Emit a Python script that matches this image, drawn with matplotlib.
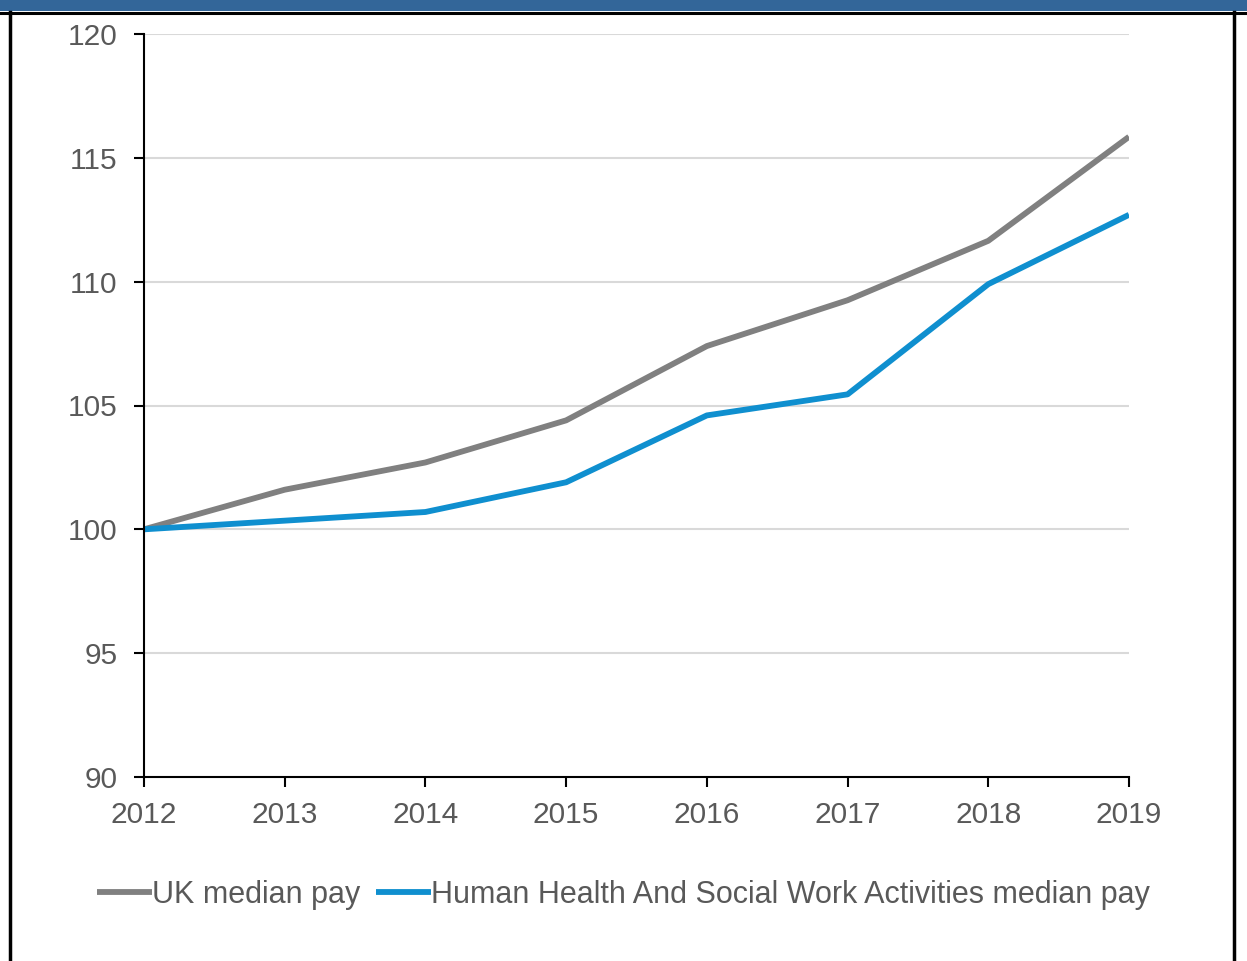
import matplotlib.pyplot as plt
from matplotlib.patches import Rectangle
from matplotlib.lines import Line2D

plt.rcParams['font.family'] = ['Liberation Sans', 'DejaVu Sans']

years = [2012, 2013, 2014, 2015, 2016, 2017, 2018, 2019]
uk_pay = [100, 101.6, 102.7, 104.4, 107.4, 109.25, 111.65, 115.85]
health_pay = [100, 100.35, 100.7, 101.9, 104.6, 105.45, 109.9, 112.7]
yticks = [90, 95, 100, 105, 110, 115, 120]

W, H = 1247, 961
fig = plt.figure(figsize=(W / 100, H / 100), dpi=100)

# frame: blue band on top, black border lines
fig.patches.append(Rectangle((0, 1 - 11 / H), 1, 11 / H, transform=fig.transFigure,
                             facecolor='#336699', edgecolor='none', zorder=0))
fig.add_artist(Line2D([0, 1], [1 - 12.5 / H] * 2, transform=fig.transFigure, color='black', lw=2.2))
fig.add_artist(Line2D([10 / W] * 2, [0, 1 - 12 / H], transform=fig.transFigure, color='black', lw=2.5))
fig.add_artist(Line2D([1233.5 / W] * 2, [0, 1 - 12 / H], transform=fig.transFigure, color='black', lw=2.5))

ax = fig.add_axes([144 / W, 1 - 777 / H, (1129 - 144) / W, (777 - 34) / H])

ax.plot(years, uk_pay, color='#808080', lw=4.2, label='UK median pay', solid_capstyle='butt')
ax.plot(years, health_pay, color='#0F8FCF', lw=4.2,
        label='Human Health And Social Work Activities median pay', solid_capstyle='butt')

ax.set_xlim(2012, 2019)
ax.set_ylim(90, 120)
ax.set_xticks(years)
ax.set_yticks(yticks)
for y in yticks[1:]:
    ax.axhline(y, color='#d9d9d9', lw=1.5, zorder=0)

for s in ['top', 'right']:
    ax.spines[s].set_visible(False)
for s in ['left', 'bottom']:
    ax.spines[s].set_color('black')
    ax.spines[s].set_linewidth(1.5)
ax.tick_params(axis='both', colors='black', labelcolor='#595959', labelsize=21.5,
               length=7, width=1.5, direction='out')
ax.tick_params(axis='x', pad=10)
ax.tick_params(axis='y', pad=12)

fig.legend(loc='center', bbox_to_anchor=(0.5, 1 - 895 / H), ncol=2, frameon=False,
           fontsize=22, handlelength=1.8, handletextpad=0.0, columnspacing=0.5,
           labelcolor='#595959')

fig.savefig('out.png', dpi=100)
